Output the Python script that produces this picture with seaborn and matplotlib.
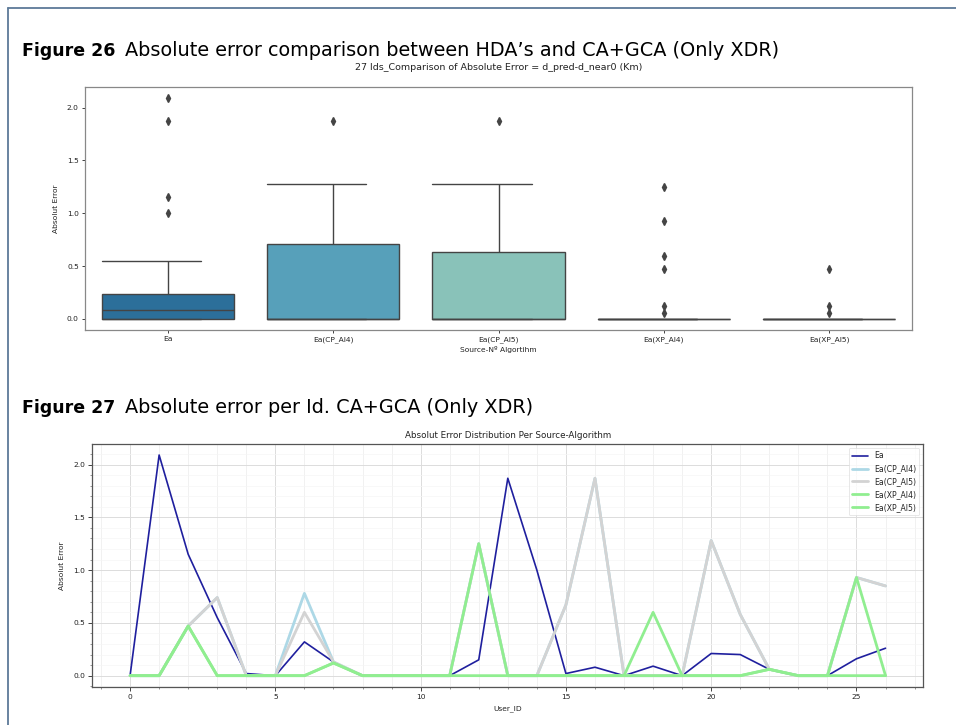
import numpy as np
import pandas as pd
import matplotlib
matplotlib.use("Agg")
import matplotlib.pyplot as plt
from matplotlib.lines import Line2D
from matplotlib.ticker import MultipleLocator
import seaborn as sns

# Absolute error per user for each source / algorithm (km)
user_id = list(range(27))
ea = [0.00, 2.09, 1.15, 0.55, 0.02, 0.00, 0.32, 0.13, 0.00, 0.00, 0.00, 0.00, 0.15, 1.87,
      1.00, 0.02, 0.08, 0.00, 0.09, 0.00, 0.21, 0.20, 0.06, 0.00, 0.00, 0.16, 0.26]
ea_cp_al4 = [0.00, 0.00, 0.47, 0.74, 0.00, 0.00, 0.78, 0.13, 0.00, 0.00, 0.00, 0.00, 1.25, 0.00,
             0.00, 0.67, 1.87, 0.00, 0.00, 0.00, 1.28, 0.58, 0.06, 0.00, 0.00, 0.93, 0.85]
ea_cp_al5 = [0.00, 0.00, 0.47, 0.74, 0.00, 0.00, 0.60, 0.13, 0.00, 0.00, 0.00, 0.00, 1.25, 0.00,
             0.00, 0.67, 1.87, 0.00, 0.00, 0.00, 1.28, 0.58, 0.06, 0.00, 0.00, 0.93, 0.85]
ea_xp_al4 = [0.00, 0.00, 0.47, 0.00, 0.00, 0.00, 0.00, 0.12, 0.00, 0.00, 0.00, 0.00, 1.25, 0.00,
             0.00, 0.00, 0.00, 0.00, 0.60, 0.00, 0.00, 0.00, 0.06, 0.00, 0.00, 0.93, 0.00]
ea_xp_al5 = [0.00, 0.00, 0.47, 0.00, 0.00, 0.00, 0.00, 0.12, 0.00, 0.00, 0.00, 0.00, 0.00, 0.00,
             0.00, 0.00, 0.00, 0.00, 0.00, 0.00, 0.00, 0.00, 0.06, 0.00, 0.00, 0.00, 0.00]

sources = ["Ea", "Ea(CP_Al4)", "Ea(CP_Al5)", "Ea(XP_Al4)", "Ea(XP_Al5)"]
series = [ea, ea_cp_al4, ea_cp_al5, ea_xp_al4, ea_xp_al5]

box_colors = ["#2c6f9a", "#57a0ba", "#89c2b9", "#b5dcb6", "#d9efd2"]
line_colors = ["#1f1f9e", "#add8e6", "#d3d3d3", "#90ee90", "#90ee90"]
line_widths = [1.2, 2.0, 2.0, 2.0, 2.0]

W, H = 956, 725
sns.set_theme(style="ticks")
plt.rcParams["font.family"] = ["DejaVu Sans"]

fig = plt.figure(figsize=(W / 100, H / 100), dpi=100)
fig.patch.set_facecolor("white")


def px_axes(left, top, right, bottom):
    return fig.add_axes([left / W, 1 - bottom / H, (right - left) / W, (bottom - top) / H])


# page frame
frame_col = "#5d7a98"
fig.add_artist(Line2D([8 / W, 1], [1 - 8 / H, 1 - 8 / H], color=frame_col, lw=1.3))
fig.add_artist(Line2D([7.5 / W, 7.5 / W], [0, 1 - 8 / H], color=frame_col, lw=1.3))

# captions
cap_bold = dict(family=["DejaVu Sans"], fontweight="bold", fontsize=12.5, color="#000000", va="baseline")
cap_reg = dict(family=["DejaVu Sans"], fontsize=13.9, color="#000000", va="baseline")
fig.text(22 / W, 1 - 56 / H, "Figure 26", **cap_bold)
fig.text(125 / W, 1 - 56 / H, "Absolute error comparison between HDA’s and CA+GCA (Only XDR)", **cap_reg)
fig.text(22 / W, 1 - 413 / H, "Figure 27", **cap_bold)
fig.text(125 / W, 1 - 413 / H, "Absolute error per Id. CA+GCA (Only XDR)", **cap_reg)

# ---- box plot of the absolute error per source ----
ax1 = px_axes(85, 87, 912, 330)
long = pd.DataFrame({
    "Source": np.repeat(sources, len(user_id)),
    "Absolut Error": np.concatenate([np.asarray(s, float) for s in series]),
})
sns.boxplot(
    data=long, x="Source", y="Absolut Error", hue="Source", order=sources,
    palette=box_colors, legend=False, saturation=1, width=0.8,
    linecolor="#444444", linewidth=1.0,
    flierprops=dict(marker="d", markersize=3.6, markerfacecolor="#444444",
                    markeredgecolor="#444444"),
    ax=ax1,
)
# caps run from the left edge of the box to right of the whisker
for ln in ax1.lines:
    x = np.asarray(ln.get_xdata(), float)
    y = np.asarray(ln.get_ydata(), float)
    if len(x) == 2 and y[0] == y[1] and 0 < abs(x[1] - x[0]) < 0.6:
        c = x.mean()
        ln.set_xdata([c - 0.4, c + 0.2])
ax1.set_title("27 Ids_Comparison of Absolute Error = d_pred-d_near0 (Km)", fontsize=6.8, pad=12, color="#222222")
ax1.set_xlabel("Source-Nº Algortihm", fontsize=5.4, labelpad=2, color="#222222")
ax1.set_ylabel("Absolut Error", fontsize=5.4, labelpad=6, color="#222222")
ax1.set_yticks([0.0, 0.5, 1.0, 1.5, 2.0])
ax1.tick_params(labelsize=5.4, length=2.5, width=0.6, pad=2, colors="#222222")
for sp in ax1.spines.values():
    sp.set_visible(True)
    sp.set_color("#888888")
    sp.set_linewidth(0.9)

# ---- absolute error per user ----
ax2 = px_axes(92.3, 444, 923.3, 686.7)
for name, vals, col, lw in zip(sources, series, line_colors, line_widths):
    sns.lineplot(x=user_id, y=vals, color=col, linewidth=lw, label=name, ax=ax2)
ax2.set_title("Absolut Error Distribution Per Source-Algorithm", fontsize=6.3, pad=4, color="#222222")
ax2.set_xlabel("User_ID", fontsize=5.4, labelpad=4, color="#222222")
ax2.set_ylabel("Absolut Error", fontsize=5.4, labelpad=6, color="#222222")
ax2.set_xticks([0, 5, 10, 15, 20, 25])
ax2.set_yticks([0.0, 0.5, 1.0, 1.5, 2.0])
ax2.xaxis.set_minor_locator(MultipleLocator(1))
ax2.yaxis.set_minor_locator(MultipleLocator(0.1))
ax2.grid(True, which="major", color="#dcdcdc", linewidth=0.7)
ax2.grid(True, which="minor", axis="x", color="#ececec", linewidth=0.5)
ax2.grid(True, which="minor", axis="y", color="#f5f5f5", linewidth=0.5)
ax2.set_axisbelow(True)
ax2.tick_params(which="major", labelsize=5.4, length=3, width=0.6, pad=2, colors="#222222")
ax2.tick_params(which="minor", length=1.5, width=0.4, colors="#444444")
for sp in ax2.spines.values():
    sp.set_visible(True)
    sp.set_color("#555555")
    sp.set_linewidth(0.9)
leg = ax2.legend(loc="upper right", fontsize=5.6, frameon=True, handlelength=2.0,
                 borderpad=0.45, labelspacing=0.5, fancybox=True)
leg.get_frame().set_edgecolor("#dddddd")
leg.get_frame().set_linewidth(0.6)

fig.savefig("out.png", dpi=100, facecolor="white")
